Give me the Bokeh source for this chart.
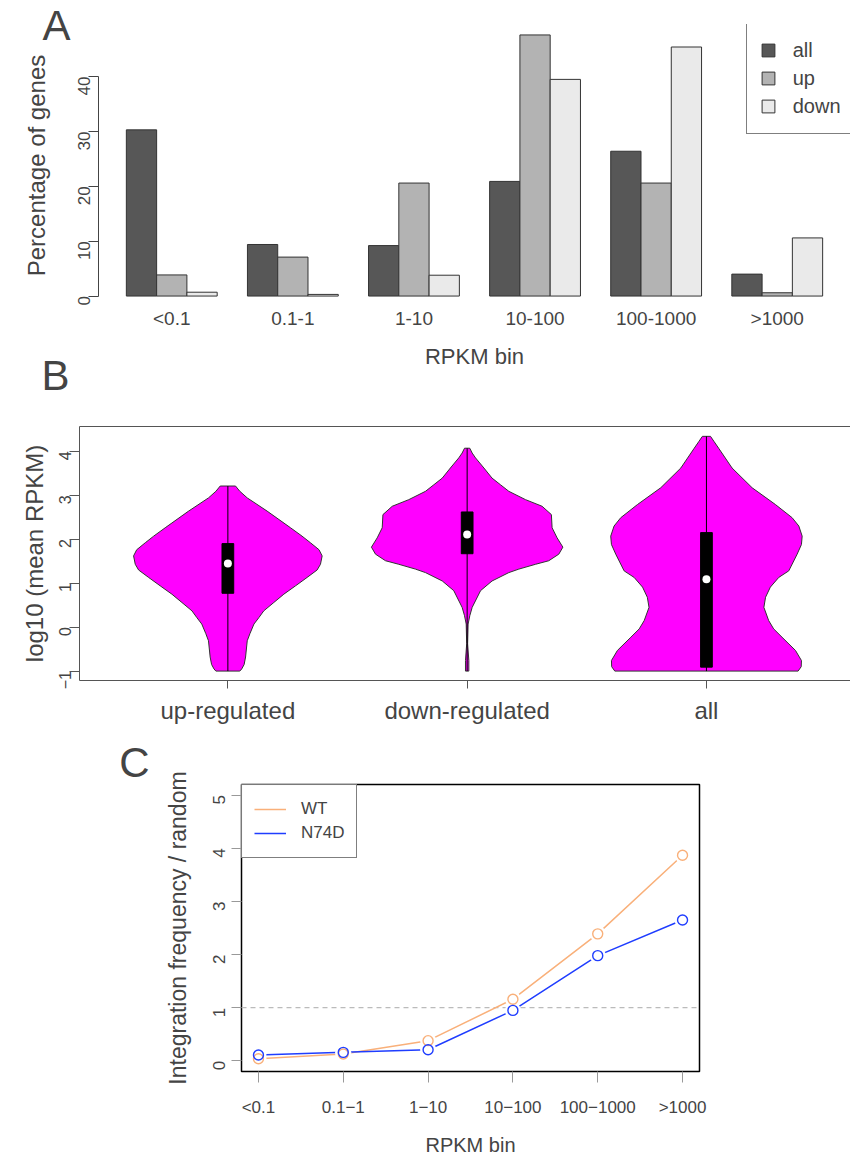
import math
from bokeh.plotting import figure
from bokeh.models import (FixedTicker, LinearAxis, Range1d, Legend, LegendItem, Label,
                          ColumnDataSource, Whisker, TeeHead, Span)
from bokeh.embed import file_html
from bokeh.resources import INLINE

FONT = "Liberation Sans"

# ---------------- Panel A data ----------------
bins_a = ["<0.1", "0.1-1", "1-10", "10-100", "100-1000", ">1000"]
series_a = ["all", "up", "down"]
pct_all = [30.3, 9.4, 9.2, 20.9, 26.4, 4.0]
pct_up = [3.85, 7.1, 20.6, 47.6, 20.6, 0.6]
pct_down = [0.7, 0.3, 3.8, 39.5, 45.4, 10.6]
ticks_a = [0, 10, 20, 30, 40]

# ---------------- Panel B data ----------------
groups_b = ["up-regulated", "down-regulated", "all"]
# violin outlines: y levels and half widths
v_up_y = [-1.0, -0.95, -0.85, -0.68, -0.31, -0.15, 0.07, 0.22, 0.37, 0.56, 0.75, 0.94,
          1.13, 1.30, 1.43, 1.62, 1.76, 1.92, 2.07, 2.26, 2.64, 2.94, 3.09, 3.21]
v_up_w = [0.050, 0.058, 0.068, 0.074, 0.081, 0.092, 0.109, 0.130, 0.150, 0.192, 0.234, 0.283,
          0.331, 0.373, 0.387, 0.394, 0.381, 0.345, 0.310, 0.262, 0.164, 0.081, 0.050, 0.032]
v_down_y = [-1.0, -0.76, -0.38, 0.07, 0.26, 0.45, 0.83, 1.05, 1.24, 1.32, 1.43, 1.51, 1.66,
            1.82, 2.03, 2.26, 2.56, 2.75, 2.90, 3.09, 3.24, 3.39, 3.62, 3.85, 3.96, 4.07]
v_down_w = [0.007, 0.007, 0.002, 0.004, 0.011, 0.021, 0.056, 0.104, 0.174, 0.216, 0.286, 0.341,
            0.383, 0.400, 0.376, 0.355, 0.352, 0.313, 0.244, 0.174, 0.139, 0.104, 0.070, 0.035,
            0.021, 0.011]
v_all_y = [-1.0, -0.90, -0.76, -0.53, -0.23, -0.04, 0.15, 0.45, 0.68, 0.91, 1.13, 1.28, 1.66,
           1.88, 2.07, 2.30, 2.49, 2.79, 3.17, 3.62, 4.07, 4.22, 4.34]
v_all_w = [0.383, 0.396, 0.397, 0.372, 0.316, 0.281, 0.260, 0.240, 0.247, 0.267, 0.302, 0.344,
           0.379, 0.397, 0.400, 0.386, 0.358, 0.288, 0.191, 0.107, 0.051, 0.032, 0.017]
box_q1 = [0.77, 1.67, -0.91]
box_q3 = [1.90, 2.62, 2.15]
box_med = [1.45, 2.11, 1.09]
whisk_lo = [-1.0, -1.0, -1.0]
whisk_hi = [3.21, 4.07, 4.34]
ticks_b = [-1, 0, 1, 2, 3, 4]

# ---------------- Panel C data ----------------
bins_c = ["<0.1", "0.1\u22121", "1\u221210", "10\u2212100", "100\u22121000", ">1000"]
wt = [0.04, 0.13, 0.38, 1.16, 2.39, 3.87]
wt_err = [0.03, 0.03, 0.05, 0.04, 0.04, 0.07]
n74d = [0.11, 0.16, 0.21, 0.95, 1.98, 2.65]
n74d_err = [0.03, 0.04, 0.04, 0.04, 0.05, 0.06]
ticks_c = [0, 1, 2, 3, 4, 5]


def panel_letter(text, x, y):
    return Label(x=x, y=y, x_units="canvas", y_units="canvas", text=text,
                 text_font=FONT, text_font_size="42px", text_align="center",
                 text_baseline="middle")


# ======================= Panel A =======================
# canvas starts 36 px above the page so that the panel letter fits in the top border
pA = figure(width=850, height=407, x_range=Range1d(-0.42, 24.42), y_range=Range1d(-1.904, 49.504),
            x_axis_type=None, y_axis_type=None, output_backend="svg", toolbar_location=None,
            min_border_left=98, min_border_right=0, min_border_top=60, min_border_bottom=62,
            outline_line_color=None, margin=(-36, 0, 0, 0))
pA.grid.visible = False
centers_a = [4 * g + 2 for g in range(len(bins_a))]
colors_a = ["#575757", "#B3B3B3", "#EAEAEA"]
rend_a = []
for j, (vals, col) in enumerate(zip([pct_all, pct_up, pct_down], colors_a)):
    xs = [c + j - 1 for c in centers_a]
    r = pA.vbar(x=xs, top=vals, bottom=0, width=1, fill_color=col, line_color="#333333", line_width=1)
    rend_a.append(r)

yaA = LinearAxis(ticker=FixedTicker(ticks=ticks_a), bounds=(0, 40),
                 axis_line_color="#444444", major_tick_line_color="#444444",
                 major_tick_out=10, major_tick_in=0, minor_tick_line_color=None,
                 major_label_orientation=math.pi / 2, major_label_text_font=FONT,
                 major_label_text_font_size="17px", major_label_standoff=4,
                 axis_label="Percentage of genes", axis_label_text_font=FONT,
                 axis_label_text_font_size="24px", axis_label_text_font_style="normal",
                 axis_label_standoff=20)
pA.add_layout(yaA, "left")
xaA = LinearAxis(ticker=FixedTicker(ticks=centers_a),
                 major_label_overrides={c: b for c, b in zip(centers_a, bins_a)},
                 axis_line_color=None, major_tick_line_color=None, minor_tick_line_color=None,
                 major_tick_out=0, major_tick_in=0,
                 major_label_text_font=FONT, major_label_text_font_size="19px",
                 major_label_standoff=1,
                 axis_label="RPKM bin", axis_label_text_font=FONT,
                 axis_label_text_font_size="22px", axis_label_text_font_style="normal",
                 axis_label_standoff=12)
pA.add_layout(xaA, "below")

legA = Legend(items=[LegendItem(label=s, renderers=[r]) for s, r in zip(series_a, rend_a)],
              location=(647.7, 172.0), padding=13, margin=0, spacing=0, label_height=28,
              glyph_width=16, glyph_height=16, label_standoff=17,
              label_text_font=FONT, label_text_font_size="20px",
              border_line_color="black", border_line_width=1.5, background_fill_color="white")
pA.add_layout(legA)
pA.add_layout(panel_letter("A", 56, 61), "above")

# ======================= Panel B =======================
# canvas overlaps the bottom 25 px of panel A (transparent border)
pB = figure(width=850, height=384, x_range=Range1d(0.38, 3.602), y_range=Range1d(-1.214, 4.564),
            x_axis_type=None, y_axis_type=None, output_backend="svg", toolbar_location=None,
            min_border_left=79, min_border_right=0, min_border_top=80, min_border_bottom=50,
            outline_line_color=None, border_fill_color=None, margin=(-25, 0, 0, 0))
pB.grid.visible = False
xs_v, ys_v = [], []
for i, (vy, vw) in enumerate([(v_up_y, v_up_w), (v_down_y, v_down_w), (v_all_y, v_all_w)]):
    c = i + 1
    xs_v.append([c + w for w in vw] + [c - w for w in reversed(vw)])
    ys_v.append(list(vy) + list(reversed(vy)))
pB.patches(xs=xs_v, ys=ys_v, fill_color="#FF00FF", line_color="#333333", line_width=1)
pos_b = [1, 2, 3]
pB.segment(x0=pos_b, y0=whisk_lo, x1=pos_b, y1=whisk_hi, line_color="black", line_width=1)
pB.vbar(x=pos_b, bottom=box_q1, top=box_q3, width=0.049, fill_color="black", line_color="black")
pB.scatter(x=pos_b, y=box_med, size=8, fill_color="white", line_color=None)

yaB = LinearAxis(ticker=FixedTicker(ticks=ticks_b),
                 axis_line_color="#555555", major_tick_line_color="#555555",
                 major_tick_out=10, major_tick_in=0, minor_tick_line_color=None,
                 major_label_orientation=math.pi / 2, major_label_text_font=FONT,
                 major_label_text_font_size="16px", major_label_standoff=4,
                 axis_label="log10 (mean RPKM)", axis_label_text_font=FONT,
                 axis_label_text_font_size="24px", axis_label_text_font_style="normal",
                 axis_label_standoff=3)
pB.add_layout(yaB, "left")
xaB = LinearAxis(ticker=FixedTicker(ticks=pos_b),
                 major_label_overrides={p: g for p, g in zip(pos_b, groups_b)},
                 axis_line_color="#555555", major_tick_line_color="#555555",
                 major_tick_out=8, major_tick_in=0, minor_tick_line_color=None,
                 major_label_text_font=FONT, major_label_text_font_size="24px",
                 major_label_standoff=8)
pB.add_layout(xaB, "below")
topB = LinearAxis(ticker=FixedTicker(ticks=[]), axis_line_color="#555555",
                  major_tick_line_color=None, minor_tick_line_color=None,
                  major_label_text_font_size="0px")
pB.add_layout(topB, "above")
pB.add_layout(panel_letter("B", 55, 29), "above")

# ======================= Panel C =======================
pC = figure(width=850, height=428, x_range=Range1d(0.8, 6.2), y_range=Range1d(-0.2, 5.2),
            x_axis_type=None, y_axis_type=None, output_backend="svg", toolbar_location=None,
            min_border_left=241, min_border_right=151, min_border_top=54, min_border_bottom=86,
            outline_line_color="black", outline_line_width=1.5)
pC.grid.visible = False
pos_c = list(range(1, len(bins_c) + 1))
pC.add_layout(Span(location=1, dimension="width", line_color="#BBBBBB", line_dash="5 4",
                   line_width=1.2, level="underlay"))
WT_COL = "#F9B07A"
N_COL = "#1F3DFF"
rw = pC.line(pos_c, wt, line_color=WT_COL, line_width=1.5)
rn = pC.line(pos_c, n74d, line_color=N_COL, line_width=1.5)
pC.scatter(pos_c, wt, size=16, fill_color="white", line_color=None)
pC.scatter(pos_c, n74d, size=16, fill_color="white", line_color=None)
for vals, errs, col in [(wt, wt_err, WT_COL), (n74d, n74d_err, N_COL)]:
    pC.scatter(pos_c, vals, size=10, fill_color=None, line_color=col, line_width=1.4)
    src = ColumnDataSource(dict(x=pos_c, lo=[v - e for v, e in zip(vals, errs)],
                                hi=[v + e for v, e in zip(vals, errs)]))
    pC.add_layout(Whisker(source=src, base="x", lower="lo", upper="hi", line_color=col,
                          line_width=1.2,
                          upper_head=TeeHead(size=7, line_color=col, line_width=1.2),
                          lower_head=TeeHead(size=7, line_color=col, line_width=1.2)))

yaC = LinearAxis(ticker=FixedTicker(ticks=ticks_c),
                 axis_line_color=None, major_tick_line_color="#999999",
                 major_tick_out=10, major_tick_in=0, minor_tick_line_color=None,
                 major_label_orientation=math.pi / 2, major_label_text_font=FONT,
                 major_label_text_font_size="17px", major_label_standoff=12,
                 axis_label="Integration frequency / random", axis_label_text_font=FONT,
                 axis_label_text_font_size="23px", axis_label_text_font_style="normal",
                 axis_label_standoff=14)
pC.add_layout(yaC, "left")
xaC = LinearAxis(ticker=FixedTicker(ticks=pos_c),
                 major_label_overrides={p: b for p, b in zip(pos_c, bins_c)},
                 axis_line_color=None, major_tick_line_color="#999999",
                 major_tick_out=11, major_tick_in=0, minor_tick_line_color=None,
                 major_label_text_font=FONT, major_label_text_font_size="17px",
                 major_label_standoff=15,
                 axis_label="RPKM bin", axis_label_text_font=FONT,
                 axis_label_text_font_size="20px", axis_label_text_font_style="normal",
                 axis_label_standoff=14)
pC.add_layout(xaC, "below")

legC = Legend(items=[LegendItem(label="WT", renderers=[rw]), LegendItem(label="N74D", renderers=[rn])],
              location="top_left", padding=12, margin=0, spacing=0, label_height=24,
              glyph_width=32, glyph_height=24, label_standoff=15,
              label_text_font=FONT, label_text_font_size="17px",
              border_line_color="black", border_line_width=1.5, background_fill_color="white")
pC.add_layout(legC)
pC.add_layout(panel_letter("C", 134, 32), "above")

open("out.html", "w").write(file_html([pA, pB, pC], INLINE))
